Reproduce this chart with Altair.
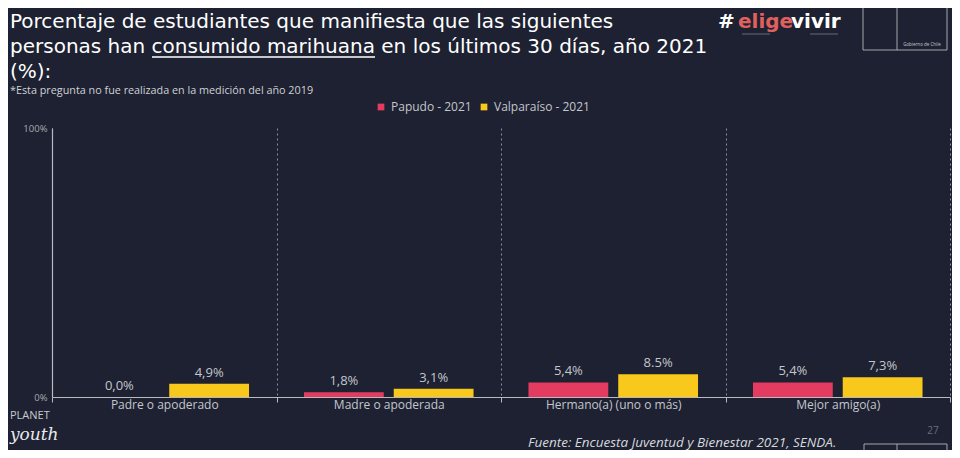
import altair as alt
import pandas as pd

categories = ["Padre o apoderado", "Madre o apoderada", "Hermano(a) (uno o más)", "Mejor amigo(a)"]
series = ["Papudo - 2021", "Valparaíso - 2021"]
papudo = [0.0, 1.8, 5.4, 5.4]
valparaiso = [4.9, 3.1, 8.5, 7.3]
papudo_labels = ["0,0%", "1,8%", "5,4%", "5,4%"]
valparaiso_labels = ["4,9%", "3,1%", "8.5%", "7,3%"]
colors = ["#e43c60", "#f8c81c"]

rows = []
for c, v, l in zip(categories, papudo, papudo_labels):
    rows.append({"categoria": c, "serie": series[0], "valor": v, "etiqueta": l})
for c, v, l in zip(categories, valparaiso, valparaiso_labels):
    rows.append({"categoria": c, "serie": series[1], "valor": v, "etiqueta": l})
df = pd.DataFrame(rows)

BG = "#1d2131"
GRAY = "#c4c6cc"
FONT = "Open Sans"
TFONT = "DejaVu Sans"

W, H = 898, 269
OX, OY = 52, 128  # page coordinates of plot origin


def px(x):
    return x - OX


def py(y):
    return y - OY


base = alt.Chart(df)

x_enc = alt.X(
    "categoria:N",
    sort=categories,
    scale=alt.Scale(paddingInner=0, paddingOuter=0),
    axis=alt.Axis(
        title=None,
        tickBand="extent",
        grid=True,
        gridDash=[2, 3],
        gridColor="#8a8f9c",
        gridWidth=1,
        ticks=True,
        tickColor="#b8bac0",
        tickSize=5,
        domainColor="#b8bac0",
        domainWidth=1.2,
        labelAngle=0,
        labelPadding=-3,
        labelColor=GRAY,
        labelFont=FONT,
        labelFontSize=12,
    ),
)
xoff_enc = alt.XOffset("serie:N", sort=series, scale=alt.Scale(paddingInner=0.111, paddingOuter=0.306))
y_enc = alt.Y(
    "valor:Q",
    scale=alt.Scale(domain=[0, 100]),
    axis=alt.Axis(
        title=None,
        values=[0, 100],
        labelExpr="datum.value + '%'",
        grid=False,
        ticks=False,
        domainColor="#b8bac0",
        domainWidth=1.2,
        labelColor="#a8aab0",
        labelFont=FONT,
        labelFontSize=9.5,
        labelPadding=5,
    ),
)

bars = base.mark_bar().encode(
    x=x_enc,
    xOffset=xoff_enc,
    y=y_enc,
    color=alt.Color(
        "serie:N",
        sort=series,
        scale=alt.Scale(domain=series, range=colors),
        legend=alt.Legend(
            title=None,
            orient="none",
            legendX=px(375),
            legendY=py(101),
            direction="horizontal",
            symbolType="square",
            symbolSize=45,
            symbolStrokeWidth=0,
            symbolOpacity=1,
            labelColor=GRAY,
            labelFont=FONT,
            labelFontSize=12,
            columnPadding=6,
            labelOffset=4,
        ),
    ),
)

values = base.mark_text(baseline="bottom", dy=-4, font=FONT, fontSize=13, color=GRAY).encode(
    x=alt.X("categoria:N", sort=categories),
    xOffset=alt.XOffset("serie:N", sort=series),
    y="valor:Q",
    text="etiqueta:N",
)


def txt(s, x, y, size, color, weight="normal", style="normal", font=FONT, align="left"):
    return (
        alt.Chart(pd.DataFrame({"t": [s]}))
        .mark_text(
            font=font,
            fontSize=size,
            fontWeight=weight,
            fontStyle=style,
            color=color,
            align=align,
            baseline="alphabetic",
        )
        .encode(x=alt.value(px(x)), y=alt.value(py(y)), text="t:N")
    )


def rule(x1, x2, y1, y2, color, width=1, dash=None):
    kw = {"color": color, "strokeWidth": width}
    if dash:
        kw["strokeDash"] = dash
    return (
        alt.Chart(pd.DataFrame({"a": [0]}))
        .mark_rule(**kw)
        .encode(x=alt.value(px(x1)), x2=alt.value(px(x2)), y=alt.value(py(y1)), y2=alt.value(py(y2)))
    )


deco = [
    txt("Porcentaje de estudiantes que manifiesta que las siguientes", 10, 28, 20, "#ffffff", font=TFONT),
    txt("personas han consumido marihuana en los últimos 30 días, año 2021", 10, 53, 20, "#ffffff", font=TFONT),
    txt("(%):", 10, 78, 20, "#ffffff", font=TFONT),
    rule(152, 375, 57, 57, "#ffffff", 1.4),
    txt("*Esta pregunta no fue realizada en la medición del año 2019", 10, 94, 10.8, "#d0d2d6"),
    txt("#", 718, 28, 20, "#ffffff", weight="bold", font=TFONT),
    txt("elige", 738, 28, 20, "#e0605e", weight="bold", font=TFONT),
    txt("vivir", 791, 28, 20, "#ffffff", weight="bold", font=TFONT),
    rule(742, 770, 34, 34, "#7c7f88", 0.8),
    rule(810, 838, 34, 34, "#7c7f88", 0.8),
    rule(863, 863, 8, 50, "#a6a8ae", 1),
    rule(897, 897, 8, 50, "#a6a8ae", 1),
    rule(947, 947, 8, 50, "#a6a8ae", 1),
    rule(863, 947, 50, 50, "#a6a8ae", 1),
    txt("Gobierno de Chile", 922, 46, 4.5, "#c8cad0", align="center"),
    txt("PLANET", 10, 419, 11, "#c8cad0"),
    txt("youth", 10, 440, 17, "#e8e8ec", style="italic", font="DejaVu Serif"),
    txt("Fuente: Encuesta Juventud y Bienestar 2021, SENDA.", 528, 447, 13.5, "#d6d8dc", style="italic"),
    txt("27", 933, 434, 10, "#6a6e7a", align="center"),
    rule(864, 947, 444, 444, "#a6a8ae", 1),
    rule(864, 864, 444, 458, "#a6a8ae", 1),
    rule(897, 897, 444, 458, "#a6a8ae", 1),
    rule(947, 947, 444, 458, "#a6a8ae", 1),
]

chart = (
    alt.layer(bars, values, *deco)
    .properties(
        width=W,
        height=H,
        background=BG,
        padding={"left": 44, "right": 2, "top": 120, "bottom": 53},
        autosize=alt.AutoSizeParams(type="none"),
    )
    .configure_view(stroke=None)
)

chart.save("out.html", embed_options={"renderer": "svg", "actions": False})
